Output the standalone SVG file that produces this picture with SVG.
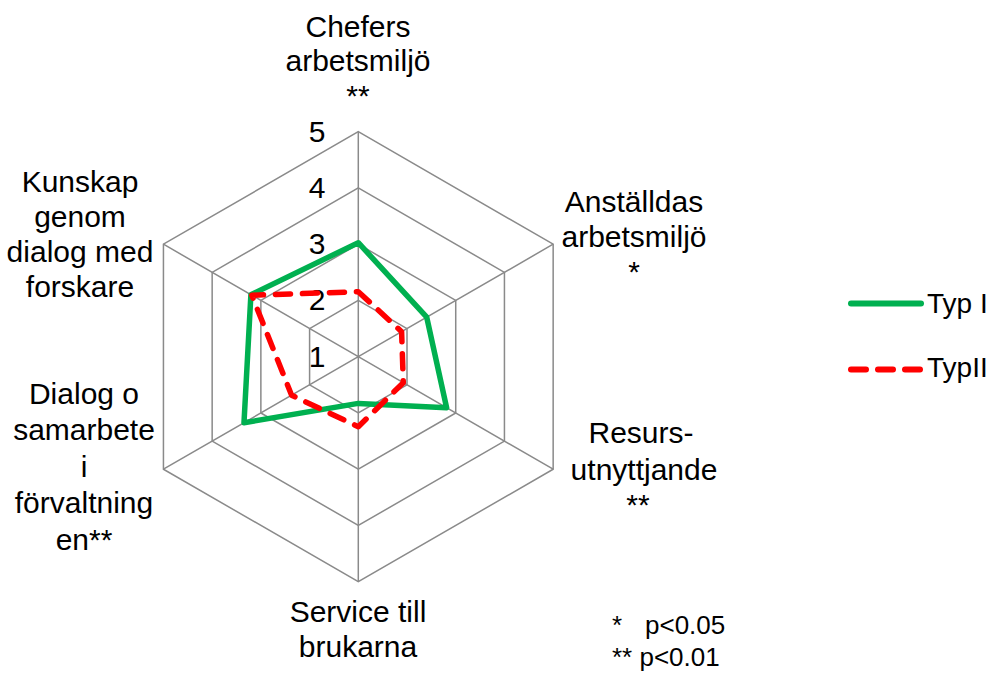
<svg xmlns="http://www.w3.org/2000/svg" width="990" height="675" viewBox="0 0 990 675">
<style>
  text { font-family: "Liberation Sans", Arial, sans-serif; fill: #000; }
  .lbl { font-size: 30px; text-anchor: middle; }
  .tick { font-size: 30px; text-anchor: middle; }
  .leg { font-size: 28px; }
  .note { font-size: 26px; }
  .grid { fill: none; stroke: #8a8a8a; stroke-width: 1.5; }
  .s1 { fill: none; stroke: #00b050; stroke-width: 5.5; stroke-linejoin: round; stroke-linecap: round; }
  .s2 { fill: none; stroke: #ff0000; stroke-width: 5.5; stroke-linejoin: round; stroke-linecap: round; stroke-dasharray: 15 12; }
</style>
<rect width="990" height="675" fill="#fff"/>

<g id="grid" transform="translate(358.3,356.7)">
  <polygon class="grid" points="0,-225 194.86,-112.5 194.86,112.5 0,225 -194.86,112.5 -194.86,-112.5"/>
  <polygon class="grid" points="0,-168.75 146.14,-84.38 146.14,84.38 0,168.75 -146.14,84.38 -146.14,-84.38"/>
  <polygon class="grid" points="0,-112.5 97.43,-56.25 97.43,56.25 0,112.5 -97.43,56.25 -97.43,-56.25"/>
  <polygon class="grid" points="0,-56.25 48.71,-28.13 48.71,28.13 0,56.25 -48.71,28.13 -48.71,-28.13"/>
  <path class="grid" d="M0,0 V-225 M0,0 L194.86,-112.5 M0,0 L194.86,112.5 M0,0 V225 M0,0 L-194.86,112.5 M0,0 L-194.86,-112.5"/>
</g>

<g id="scale">
  <text class="tick" x="317" y="142">5</text>
  <text class="tick" x="317" y="198">4</text>
  <text class="tick" x="317" y="254">3</text>
  <text class="tick" x="317" y="310">2</text>
  <text class="tick" x="317" y="367">1</text>
</g>

<g id="connectors">
  <g id="series-typ1" transform="translate(358.3,356.7)">
    <polygon class="s1" points="0,-114 68.4,-39.5 88.3,51 0,46.7 -114.3,66 -107.4,-62"/>
  </g>
  <g id="series-typ2" transform="translate(358.3,356.7)">
    <polygon class="s2" points="0,-65 43.3,-25 45,26 0,70 -66.7,38.5 -106.5,-61.5"/>
  </g>
</g>

<g id="axis-chefers">
  <text class="lbl" x="358" y="37">Chefers</text>
  <text class="lbl" x="358" y="71">arbetsmiljö</text>
  <text class="lbl" x="358" y="106">**</text>
</g>
<g id="axis-anstalldas">
  <text class="lbl" x="634" y="212">Anställdas</text>
  <text class="lbl" x="634" y="247">arbetsmiljö</text>
  <text class="lbl" x="634" y="282">*</text>
</g>
<g id="axis-resurs">
  <text class="lbl" x="641" y="443">Resurs-</text>
  <text class="lbl" x="644" y="480">utnyttjande</text>
  <text class="lbl" x="638" y="515">**</text>
</g>
<g id="axis-service">
  <text class="lbl" x="358" y="622">Service till</text>
  <text class="lbl" x="358" y="657">brukarna</text>
</g>
<g id="axis-dialog">
  <text class="lbl" x="84" y="404">Dialog o</text>
  <text class="lbl" x="84" y="440">samarbete</text>
  <text class="lbl" x="84" y="477">i</text>
  <text class="lbl" x="84" y="513">förvaltning</text>
  <text class="lbl" x="84" y="550">en**</text>
</g>
<g id="axis-kunskap">
  <text class="lbl" x="80" y="192">Kunskap</text>
  <text class="lbl" x="80" y="227">genom</text>
  <text class="lbl" x="80" y="262">dialog med</text>
  <text class="lbl" x="80" y="297">forskare</text>
</g>

<g id="legend">
  <line x1="851" y1="303.5" x2="921" y2="303.5" stroke="#00b050" stroke-width="6" stroke-linecap="round"/>
  <text class="leg" x="927" y="313">Typ I</text>
  <line x1="851" y1="369.5" x2="921" y2="369.5" stroke="#ff0000" stroke-width="6" stroke-linecap="round" stroke-dasharray="15 12"/>
  <text class="leg" x="927" y="377">TypII</text>
</g>

<g id="footnote">
  <text class="note" y="634"><tspan x="612">*</tspan><tspan x="645">p&lt;0.05</tspan></text>
  <text class="note" x="612" y="666">** p&lt;0.01</text>
</g>
</svg>
